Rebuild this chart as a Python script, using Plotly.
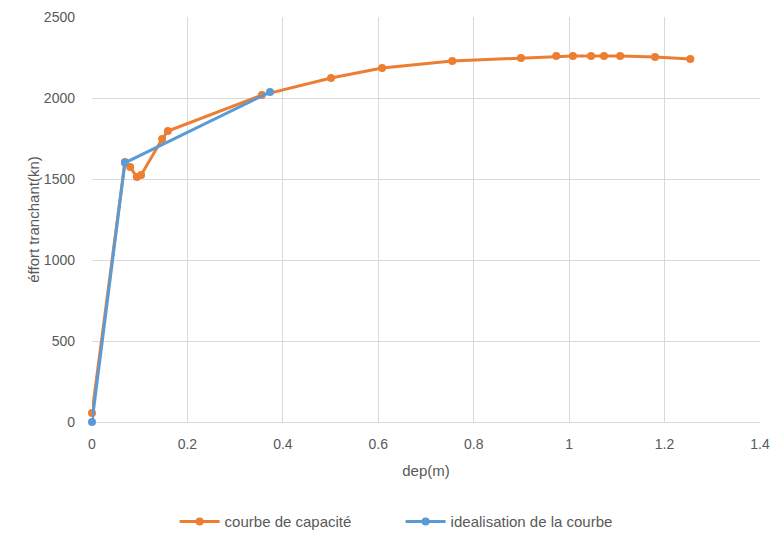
import plotly.graph_objects as go

# Capacity curve (pushover): displacement (m) vs base shear (kN)
dep_capacite = [0.0, 0.069, 0.080, 0.094, 0.103, 0.147, 0.159, 0.356, 0.501, 0.608,
                0.755, 0.899, 0.973, 1.008, 1.046, 1.073, 1.107, 1.180, 1.254]
effort_capacite = [55, 1605, 1574, 1512, 1525, 1747, 1796, 2018, 2123, 2185,
                   2228, 2247, 2259, 2260, 2260, 2260, 2259, 2253, 2240]

# Bilinear idealisation
dep_ideal = [0.0, 0.069, 0.373]
effort_ideal = [0, 1600, 2037]

x_ticks = [0, 0.2, 0.4, 0.6, 0.8, 1, 1.2, 1.4]
x_tick_text = ["0", "0.2", "0.4", "0.6", "0.8", "1", "1.2", "1.4"]
y_ticks = [0, 500, 1000, 1500, 2000, 2500]

orange = "#ED7D31"
blue = "#5B9BD5"
text_color = "#595959"
grid_color = "#D9D9D9"
font_family = "Liberation Sans, Arial, sans-serif"

fig = go.Figure()
fig.add_trace(go.Scatter(
    x=dep_capacite, y=effort_capacite, mode="lines+markers",
    name="courbe de capacité",
    line=dict(color=orange, width=3),
    marker=dict(color=orange, size=8),
    cliponaxis=False,
))
fig.add_trace(go.Scatter(
    x=dep_ideal, y=effort_ideal, mode="lines+markers",
    name="idealisation de la courbe",
    line=dict(color=blue, width=3),
    marker=dict(color=blue, size=8),
    cliponaxis=False,
))

fig.update_layout(
    width=774, height=538,
    margin=dict(l=92, r=14, t=17, b=116),
    paper_bgcolor="white", plot_bgcolor="white",
    font=dict(family=font_family, size=14, color=text_color),
    showlegend=True,
    legend=dict(orientation="h", x=0.462, xanchor="center",
                yref="container", y=0.03, yanchor="middle",
                font=dict(size=15, color=text_color), itemwidth=40,
                entrywidth=171, entrywidthmode="pixels"),
    xaxis=dict(
        range=[0, 1.4], tickvals=x_ticks, ticktext=x_tick_text,
        showgrid=True, gridcolor=grid_color, gridwidth=1,
        zeroline=False, showline=False, ticks="", automargin=False,
        ticklabelstandoff=12,
        tickfont=dict(size=14, color=text_color),
        title=dict(text="dep(m)", font=dict(size=15, color=text_color), standoff=14),
    ),
    yaxis=dict(
        range=[0, 2500], tickvals=y_ticks,
        showgrid=True, gridcolor=grid_color, gridwidth=1,
        zeroline=True, zerolinecolor=grid_color, zerolinewidth=1,
        showline=False, ticks="", automargin=False,
        ticklabelstandoff=16,
        tickfont=dict(size=14, color=text_color),
        title=dict(text="éffort tranchant(kn)", font=dict(size=15, color=text_color), standoff=0),
    ),
)

fig.write_html("out.html")
